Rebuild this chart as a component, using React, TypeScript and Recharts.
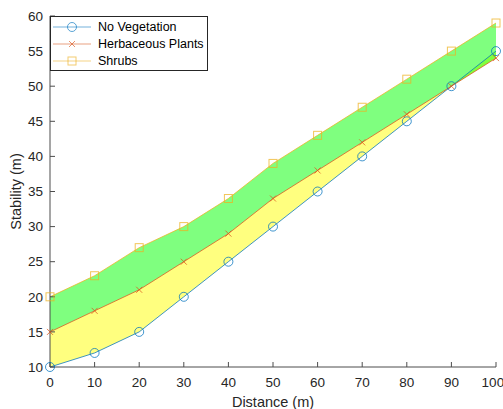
import { ComposedChart, Area, Line, XAxis, YAxis, Legend } from "recharts";

const distance = [0, 10, 20, 30, 40, 50, 60, 70, 80, 90, 100];
const noVegetation = [10, 12, 15, 20, 25, 30, 35, 40, 45, 50, 55];
const herbaceous = [15, 18, 21, 25, 29, 34, 38, 42, 46, 50, 54];
const shrubs = [20, 23, 27, 30, 34, 39, 43, 47, 51, 55, 59];
const xTicks = [0, 10, 20, 30, 40, 50, 60, 70, 80, 90, 100];
const yTicks = [10, 15, 20, 25, 30, 35, 40, 45, 50, 55, 60];

const BLUE = "#0072BD";
const RED = "#D95319";
const GOLD = "#EDB120";

const data = distance.map((d, i) => ({
  d,
  nv: noVegetation[i],
  hp: herbaceous[i],
  sh: shrubs[i],
  low: [noVegetation[i], herbaceous[i]],
  high: [herbaceous[i], shrubs[i]],
}));

const font = "Arial, 'Liberation Sans', sans-serif";

function Marker({ kind, cx, cy, color }: { kind: string; cx: number; cy: number; color: string }) {
  if (cx == null || cy == null) return null;
  if (kind === "circle") {
    return <circle cx={cx} cy={cy} r={4.5} fill="none" stroke={color} strokeOpacity={0.75} strokeWidth={1} />;
  }
  if (kind === "cross") {
    const s = 3;
    return (
      <g stroke={color} strokeOpacity={0.75} strokeWidth={1}>
        <line x1={cx - s} y1={cy - s} x2={cx + s} y2={cy + s} />
        <line x1={cx - s} y1={cy + s} x2={cx + s} y2={cy - s} />
      </g>
    );
  }
  return <rect x={cx - 4} y={cy - 4} width={8} height={8} fill="none" stroke={color} strokeOpacity={0.75} strokeWidth={1} />;
}

const legendItems = [
  { label: "No Vegetation", color: BLUE, kind: "circle" },
  { label: "Herbaceous Plants", color: RED, kind: "cross" },
  { label: "Shrubs", color: GOLD, kind: "square" },
];

function LegendBox() {
  return (
    <svg width={158} height={55} style={{ display: "block" }}>
      <rect x={0.5} y={0.5} width={157} height={54} fill="#fff" stroke="#262626" strokeWidth={1} />
      {legendItems.map((it, i) => {
        const y = 11 + i * 17;
        return (
          <g key={it.label}>
            <line x1={3} y1={y} x2={41} y2={y} stroke={it.color} strokeOpacity={0.55} strokeWidth={1} />
            <g opacity={0.85}>
              <Marker kind={it.kind} cx={22} cy={y} color={it.color} />
            </g>
            <text x={48} y={y} dy="0.35em" fontSize={12.5} fill="#000" fontFamily={font}>
              {it.label}
            </text>
          </g>
        );
      })}
    </svg>
  );
}

export default function App() {
  return (
    <div style={{ position: "absolute", left: 0, top: 0, background: "#fff" }}>
      <ComposedChart width={503} height={409} data={data} margin={{ top: 16, right: 7, bottom: 0, left: 8 }}>
        <XAxis
          dataKey="d"
          type="number"
          domain={[0, 100]}
          ticks={xTicks}
          height={42}
          tickSize={-5}
          tickMargin={15}
          stroke="#4d4d4d"
          tick={{ fill: "#262626", fontSize: 13.5, fontFamily: font }}
          label={{ value: "Distance (m)", position: "center", dy: 14, fill: "#262626", fontSize: 14.5, fontFamily: font }}
        />
        <YAxis
          type="number"
          domain={[10, 60]}
          ticks={yTicks}
          width={42}
          tickSize={-5}
          tickMargin={12}
          stroke="#4d4d4d"
          tick={{ fill: "#262626", fontSize: 13.5, fontFamily: font }}
          label={{ value: "Stability (m)", angle: -90, position: "center", dx: -13, fill: "#262626", fontSize: 14.5, fontFamily: font }}
        />
        <Legend
          verticalAlign="middle"
          align="center"
          layout="vertical"
          content={() => <LegendBox />}
          wrapperStyle={{ left: 50, top: 16, width: 158, height: 55 }}
        />
        <Line dataKey="nv" stroke={BLUE} strokeOpacity={0.75} strokeWidth={1} isAnimationActive={false}
          dot={(p: any) => <Marker key={`nv${p.index}`} kind="circle" cx={p.cx} cy={p.cy} color={BLUE} />} />
        <Line dataKey="hp" stroke={RED} strokeOpacity={0.75} strokeWidth={1} isAnimationActive={false}
          dot={(p: any) => <Marker key={`hp${p.index}`} kind="cross" cx={p.cx} cy={p.cy} color={RED} />} />
        <Line dataKey="sh" stroke={GOLD} strokeOpacity={0.75} strokeWidth={1} isAnimationActive={false}
          dot={(p: any) => <Marker key={`sh${p.index}`} kind="square" cx={p.cx} cy={p.cy} color={GOLD} />} />
        <Area dataKey="low" type="linear" stroke="none" fill="#ffff00" fillOpacity={0.5} isAnimationActive={false} />
        <Area dataKey="high" type="linear" stroke="none" fill="#00ff00" fillOpacity={0.5} isAnimationActive={false} />
      </ComposedChart>
    </div>
  );
}
